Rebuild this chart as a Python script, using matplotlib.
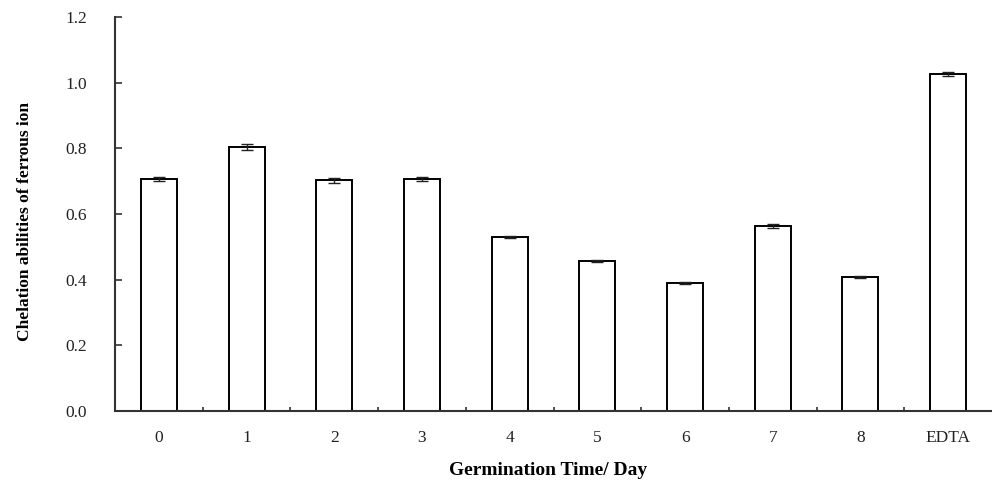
import numpy as np
import matplotlib
matplotlib.use('Agg')
import matplotlib.pyplot as plt
from matplotlib.ticker import FixedLocator

# chelation data
labels = ['0', '1', '2', '3', '4', '5', '6', '7', '8', 'EDTA']
values = [0.707, 0.804, 0.702, 0.707, 0.530, 0.457, 0.390, 0.562, 0.408, 1.026]
errors = [0.006, 0.008, 0.008, 0.007, 0.003, 0.003, 0.003, 0.006, 0.003, 0.007]

plt.rcParams['font.family'] = ['Liberation Serif', 'DejaVu Serif']

fig = plt.figure(figsize=(9.92, 4.83), dpi=100)
ax = fig.add_axes([0.116, 0.149, 0.884, 0.816])

x = np.arange(len(labels))
ax.bar(x, values, width=0.41, color='white', edgecolor='black', linewidth=1.4,
       yerr=errors, capsize=4.5,
       error_kw=dict(ecolor='#222222', elinewidth=1.0, capthick=1.0))

ax.set_xlim(-0.5, len(labels) - 0.5)
ax.set_ylim(0, 1.2)
ax.set_yticks(np.arange(0, 1.21, 0.2))
ax.set_yticklabels(['%.1f' % v for v in np.arange(0, 1.21, 0.2)])
ax.set_xticks(x)
ax.set_xticklabels(labels)
ax.xaxis.set_minor_locator(FixedLocator(x[:-1] + 0.5))

for s in ['top', 'right']:
    ax.spines[s].set_visible(False)
for s in ['left', 'bottom']:
    ax.spines[s].set_color('#333333')
    ax.spines[s].set_linewidth(1.5)

ax.tick_params(axis='y', direction='in', length=5, width=1.2, color='#333333',
               pad=20, labelsize=12.5, labelcolor='#222222')
ax.tick_params(axis='x', which='major', length=0, pad=14, labelsize=12.5,
               labelcolor='#222222')
ax.tick_params(axis='x', which='minor', direction='in', length=3, width=1.2,
               color='#333333')

ax.set_xlabel('Germination Time/ Day', fontsize=14, fontweight='bold')
ax.set_ylabel('Chelation abilities of ferrous ion', fontsize=12.5, fontweight='bold')
ax.xaxis.set_label_coords(0.494, -0.13)
ax.yaxis.set_label_coords(-0.094, 0.48)

fig.savefig('out.png', dpi=100)
